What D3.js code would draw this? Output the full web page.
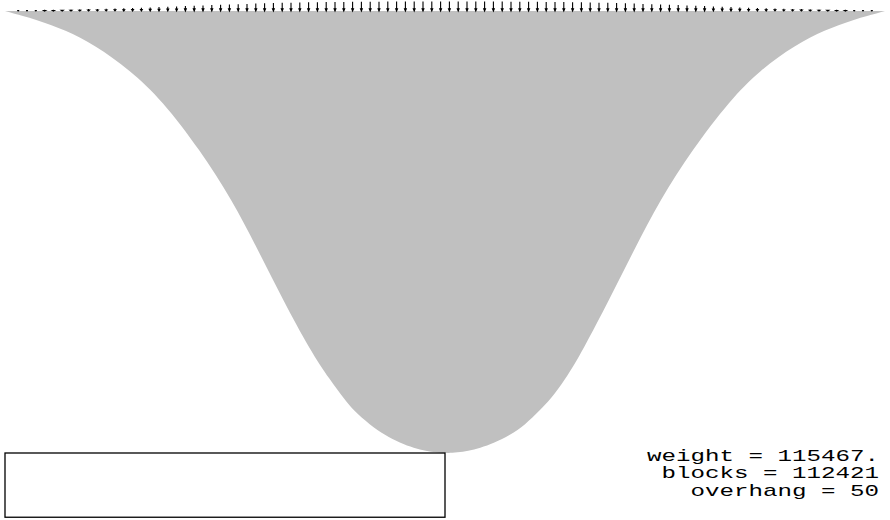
<!DOCTYPE html>
<html>
<head>
<meta charset="utf-8">
<script src="https://cdn.jsdelivr.net/npm/d3@7"></script>
<style>
  body { margin: 0; background: #fff; }
  svg { display: block; }
</style>
</head>
<body>
<div id="main"></div>
<script>
const ctx = {
    w: 890,
    h: 520,
};

// stack outline, in block lengths; level 0 = table top, x 0 = table edge
const LEVELS = [0, 0.057, 0.227, 0.568, 1.136, 2.045, 3.18, 4.886, 6.02, 8.3, 11.7, 17.39, 23.07, 28.75, 34.43, 40.11, 43.52, 46.36, 48.07, 49.2, 50.23];
const LEFT   = [0.23, -0.97, -2.16, -3.52, -5.11, -6.82, -8.52, -10.45, -11.36, -13.07, -15.34, -18.41, -21.25, -24.2, -27.84, -32.16, -35.8, -39.77, -43.18, -46.25, -50.0];
const RIGHT  = [0.23, 1.42, 2.61, 3.98, 5.57, 7.39, 9.09, 10.8, 11.93, 13.64, 15.68, 18.64, 21.48, 24.43, 28.07, 32.39, 35.8, 39.77, 43.18, 46.25, 50.0];

// point loads on top of the stack (relative size)
const LOADS = [
    0.10, 0.10, 0.11, 0.12, 0.13, 0.14, 0.16, 0.18, 0.20, 0.22,
    0.24, 0.26, 0.29, 0.32, 0.35, 0.38, 0.41, 0.45, 0.48, 0.52,
    0.55, 0.59, 0.62, 0.66, 0.69, 0.72, 0.75, 0.78, 0.81, 0.84,
    0.86, 0.88, 0.90, 0.92, 0.93, 0.94, 0.95, 0.96, 0.97, 0.97,
    0.98, 0.98, 0.99, 0.99, 1.00, 1.00, 1.00, 1.00, 1.00,
    1.00, 1.00, 1.00, 1.00, 1.00, 0.99, 0.99, 0.98, 0.98,
    0.97, 0.97, 0.96, 0.95, 0.94, 0.93, 0.92, 0.90, 0.88, 0.86,
    0.84, 0.81, 0.78, 0.75, 0.72, 0.69, 0.66, 0.62, 0.59, 0.55,
    0.52, 0.48, 0.45, 0.41, 0.38, 0.35, 0.32, 0.29, 0.26, 0.24,
    0.22, 0.20, 0.18, 0.16, 0.14, 0.13, 0.12, 0.11, 0.10, 0.10
];
const FIRST_LOAD_X = -48.5;

const LABELS = ["weight = 115467.", "blocks = 112421", "overhang = 50"];
const TABLE = {x0: -50, x1: 0, depth: 7.3};

function createViz(){
    let svgEl = d3.select("#main").append("svg")
        .attr("width", ctx.w)
        .attr("height", ctx.h);

    let x = d3.scaleLinear().domain([-50, 50]).range([5, 885]);
    let y = d3.scaleLinear().domain([0, 50.23]).range([453, 11]);
    let loadLen = d3.scaleLinear().domain([0, 1]).range([0, 9.5]);

    // the stack
    let outline = LEVELS.map((v, i) => ({v: v, l: LEFT[i], r: RIGHT[i]}));
    let area = d3.area()
        .y(d => y(d.v))
        .x0(d => x(d.l))
        .x1(d => x(d.r))
        .curve(d3.curveBasis);
    svgEl.append("path")
        .datum(outline)
        .attr("d", area)
        .style("fill", "#c0c0c0")
        .style("stroke", "none");

    // loads drawn as little down arrows
    let top = y(50.23);
    let loads = svgEl.append("g").attr("id", "loads");
    loads.selectAll("path.load")
        .data(LOADS)
        .enter()
        .append("path")
        .attr("class", "load")
        .attr("d", function(d, i) {
            let cx = x(FIRST_LOAD_X + i);
            let len = Math.max(loadLen(d), 1);
            let head = Math.min(len * 0.45, 2.2);
            return `M${cx},${top - len}L${cx},${top - head}`
                 + `M${cx - 0.9},${top - head}L${cx + 0.9},${top - head}L${cx},${top}Z`;
        })
        .style("stroke", "black")
        .style("stroke-width", 1.1)
        .style("fill", "black");

    // table
    svgEl.append("rect")
        .attr("x", x(TABLE.x0))
        .attr("y", y(0))
        .attr("width", x(TABLE.x1) - x(TABLE.x0))
        .attr("height", y(-TABLE.depth) - y(0))
        .style("fill", "none")
        .style("stroke", "black")
        .style("stroke-width", 1.3);

    // stats
    svgEl.append("g").attr("id", "stats")
        .selectAll("text")
        .data(LABELS)
        .enter()
        .append("text")
        .attr("x", 879)
        .attr("y", (d, i) => 460.7 + i * 17.7)
        .attr("text-anchor", "end")
        .attr("textLength", d => d.length * 14.5)
        .attr("lengthAdjust", "spacingAndGlyphs")
        .style("font-family", "'Courier New', 'Liberation Mono', monospace")
        .style("font-size", "17px")
        .style("fill", "black")
        .text(d => d);
};

createViz();
</script>
</body>
</html>
